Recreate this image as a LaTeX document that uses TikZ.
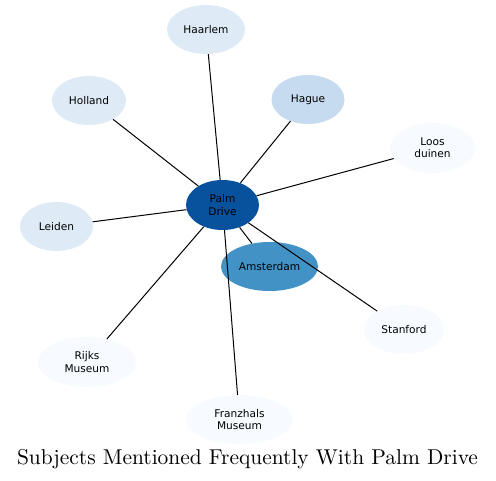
\documentclass[tikz,border=0pt]{standalone}
\usepackage{fontspec}
\newfontfamily\labelfont{DejaVu Sans}
\usetikzlibrary{shapes.geometric}
\definecolor{b1}{HTML}{F7FBFF}
\definecolor{b2}{HTML}{DEEBF7}
\definecolor{b3}{HTML}{C6DBEF}
\definecolor{b6}{HTML}{4292C6}
\definecolor{b8}{HTML}{08519C}
\tikzset{
  bubble/.style={ellipse, inner sep=0pt, draw=none, align=center,
    font=\labelfont\fontsize{10.6}{12.3}\selectfont, text=black},
  link/.style={draw=black, line width=1pt}
}
\begin{document}
\begin{tikzpicture}[x=1pt,y=-1pt]
\useasboundingbox (0,0) rectangle (496,480);
\node[bubble, fill=b8, minimum width=73pt, minimum height=50pt] (pd) at (222.5,205) {Palm\\Drive};
\node[bubble, fill=b6, minimum width=97pt, minimum height=49pt] (ams) at (269.5,266.5) {Amsterdam};
\node[bubble, fill=b2, minimum width=78pt, minimum height=49pt] (haa) at (206,29.5) {Haarlem};
\node[bubble, fill=b2, minimum width=74pt, minimum height=49pt] (hol) at (89,100.5) {Holland};
\node[bubble, fill=b3, minimum width=73pt, minimum height=49pt] (hag) at (308,99.5) {Hague};
\node[bubble, fill=b1, minimum width=85pt, minimum height=50pt] (loo) at (432.5,148) {Loos\\duinen};
\node[bubble, fill=b2, minimum width=73pt, minimum height=49pt] (lei) at (56.5,226.5) {Leiden};
\node[bubble, fill=b1, minimum width=80pt, minimum height=49pt] (sta) at (404,329.5) {Stanford};
\node[bubble, fill=b1, minimum width=98pt, minimum height=50pt] (rij) at (87,362) {Rijks\\Museum};
\node[bubble, fill=b1, minimum width=107pt, minimum height=49pt] (fra) at (239.5,419.5) {Franzhals\\Museum};
\foreach \t in {ams,haa,hol,hag,loo,lei,sta,rij,fra}
  \draw[link] (pd) -- (\t);
\node[inner sep=0pt] (title) at (247.5,459) {\resizebox{461pt}{!}{Subjects Mentioned Frequently With Palm Drive}};
\end{tikzpicture}
\end{document}
